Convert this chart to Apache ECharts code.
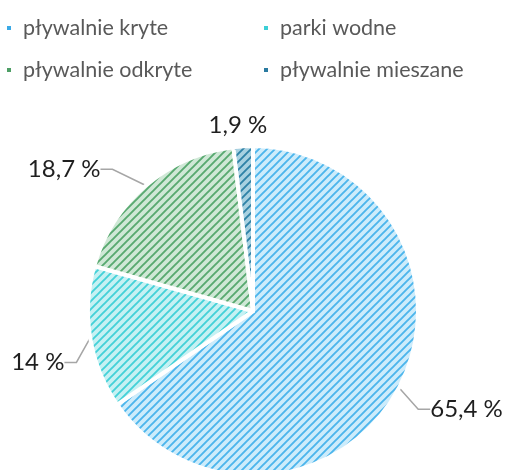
<!DOCTYPE html>
<html>
<head>
<meta charset="utf-8">
<script src="https://cdn.jsdelivr.net/npm/echarts@6/dist/echarts.min.js"></script>
<style>
  html, body { margin: 0; padding: 0; background: #fff; }
  #chart { width: 507px; height: 470px; }
</style>
</head>
<body>
<div id="chart"></div>
<script>
const categories = ['pływalnie kryte', 'parki wodne', 'pływalnie odkryte', 'pływalnie mieszane'];
const values = [65.4, 14, 18.7, 1.9];
const baseColors = ['#cdecfb', '#c6f1f3', '#cfe8d6', '#a8d1e1'];
const stripeColors = ['#4cb5ec', '#44d1d8', '#58a970', '#2f82a7'];
const legendColors = ['#3aa9e6', '#3ccfd6', '#4e9f66', '#2a7aa0'];

// diagonal hatch tile, like the office "wide upward diagonal" fill
function hatch(bg, fg) {
  const size = 8;
  const c = document.createElement('canvas');
  c.width = size; c.height = size;
  const ctx = c.getContext('2d');
  ctx.fillStyle = bg;
  ctx.fillRect(0, 0, size, size);
  ctx.strokeStyle = fg;
  ctx.lineWidth = 1.9;
  ctx.beginPath();
  ctx.moveTo(-2, size + 2); ctx.lineTo(size + 2, -2);
  ctx.moveTo(-2, 2); ctx.lineTo(2, -2);
  ctx.moveTo(size - 2, size + 2); ctx.lineTo(size + 2, size - 2);
  ctx.stroke();
  return { image: c, repeat: 'repeat' };
}

const myChart = echarts.init(document.getElementById('chart'), null, { renderer: 'canvas' });

const legendText = {
  color: '#595959', fontSize: 21.5, fontFamily: 'Lato, sans-serif',
  padding: [0, 0, 0, 6]
};

// small nudges so the labels sit where the original put them
const labelShift = [
  { dx: 0, dy: 14 },
  { dx: 7, dy: 22 },
  { dx: -18, dy: -4 },
  { dx: 42, dy: -5 }
];

const option = {
  backgroundColor: '#fff',
  animation: false,
  legend: [
    {
      orient: 'vertical',
      left: 0, top: 12,
      itemWidth: 6, itemHeight: 6, itemGap: 20,
      icon: 'rect',
      textStyle: legendText,
      data: [0, 2].map(i => ({ name: categories[i], itemStyle: { color: legendColors[i] } }))
    },
    {
      orient: 'vertical',
      left: 257, top: 12,
      itemWidth: 6, itemHeight: 6, itemGap: 20,
      icon: 'rect',
      textStyle: legendText,
      data: [1, 3].map(i => ({ name: categories[i], itemStyle: { color: legendColors[i] } }))
    }
  ],
  series: [{
    type: 'pie',
    center: [253, 311],
    radius: 165,
    startAngle: 90,
    clockwise: true,
    avoidLabelOverlap: false,
    itemStyle: { borderColor: '#fff', borderWidth: 4 },
    label: {
      color: '#1f1f1f',
      fontSize: 24,
      fontFamily: 'Lato, sans-serif',
      formatter: p => String(p.value).replace('.', ',') + ' %'
    },
    labelLine: {
      length: 16, length2: 12,
      lineStyle: { color: '#a6a6a6', width: 1.5 }
    },
    labelLayout: p => {
      const s = labelShift[p.dataIndex];
      return {
        x: p.labelRect.x + s.dx,
        y: p.labelRect.y + s.dy,
        align: 'left',
        verticalAlign: 'top'
      };
    },
    data: categories.map((name, i) => ({
      name,
      value: values[i],
      itemStyle: { color: hatch(baseColors[i], stripeColors[i]) },
      labelLine: i === 3 ? { show: false } : undefined
    }))
  }]
};

myChart.setOption(option);
</script>
</body>
</html>
